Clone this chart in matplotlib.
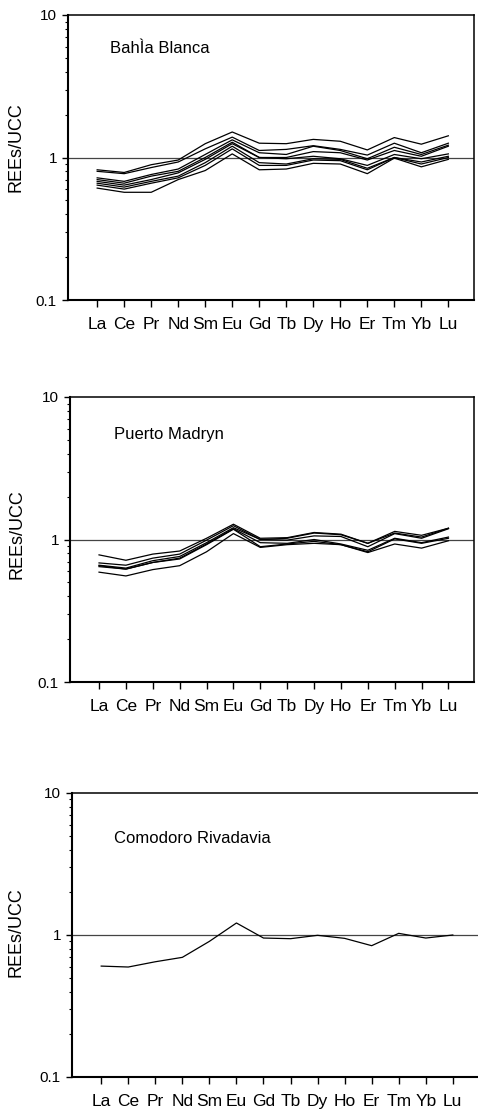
import numpy as np
import matplotlib
matplotlib.use("Agg")
import matplotlib.pyplot as plt
from matplotlib.ticker import LogLocator, NullFormatter, FixedLocator

plt.rcParams['font.family'] = ['Liberation Sans', 'DejaVu Sans']

elements = ['La', 'Ce', 'Pr', 'Nd', 'Sm', 'Eu', 'Gd', 'Tb', 'Dy', 'Ho', 'Er', 'Tm', 'Yb', 'Lu']

# UCC-normalised REE patterns, one list per sample
bahia_blanca = [
    [0.82, 0.785, 0.89, 0.96, 1.25, 1.51, 1.26, 1.25, 1.34, 1.30, 1.13, 1.38, 1.24, 1.42],
    [0.80, 0.77, 0.85, 0.93, 1.15, 1.39, 1.12, 1.14, 1.21, 1.14, 1.04, 1.26, 1.08, 1.26],
    [0.72, 0.68, 0.76, 0.83, 1.05, 1.33, 1.08, 1.05, 1.20, 1.12, 0.98, 1.18, 1.05, 1.22],
    [0.70, 0.66, 0.74, 0.80, 1.00, 1.28, 1.00, 1.00, 1.10, 1.08, 0.96, 1.12, 1.02, 1.20],
    [0.68, 0.64, 0.70, 0.78, 0.97, 1.25, 1.00, 0.98, 1.02, 0.98, 0.88, 1.05, 0.98, 1.06],
    [0.66, 0.62, 0.68, 0.74, 0.92, 1.20, 0.92, 0.90, 0.98, 0.97, 0.84, 1.00, 0.93, 1.02],
    [0.64, 0.60, 0.66, 0.72, 0.88, 1.15, 0.88, 0.88, 0.96, 0.95, 0.82, 1.00, 0.90, 1.00],
    [0.61, 0.57, 0.57, 0.70, 0.81, 1.06, 0.82, 0.83, 0.91, 0.90, 0.77, 0.99, 0.86, 0.97],
]

puerto_madryn = [
    [0.78, 0.715, 0.79, 0.83, 1.02, 1.28, 1.02, 1.03, 1.12, 1.09, 0.94, 1.14, 1.07, 1.20],
    [0.685, 0.66, 0.74, 0.79, 0.99, 1.25, 1.00, 1.02, 1.11, 1.08, 0.94, 1.11, 1.04, 1.20],
    [0.66, 0.63, 0.71, 0.76, 0.95, 1.21, 1.00, 0.99, 1.06, 1.05, 0.89, 1.10, 1.02, 1.19],
    [0.655, 0.62, 0.69, 0.74, 0.93, 1.19, 0.95, 0.94, 1.00, 0.93, 0.84, 1.02, 0.95, 1.04],
    [0.645, 0.62, 0.69, 0.73, 0.92, 1.18, 0.89, 0.93, 0.97, 0.92, 0.82, 1.01, 0.94, 1.02],
    [0.59, 0.555, 0.615, 0.655, 0.82, 1.10, 0.88, 0.92, 0.94, 0.92, 0.81, 0.93, 0.87, 0.98],
]

comodoro_rivadavia = [
    [0.604, 0.595, 0.648, 0.696, 0.902, 1.215, 0.952, 0.942, 0.995, 0.947, 0.841, 1.027, 0.952, 1.0],
]

panels = [
    ('BahÌa Blanca', bahia_blanca),
    ('Puerto Madryn', puerto_madryn),
    ('Comodoro Rivadavia', comodoro_rivadavia),
]

W, H = 478, 1109
fig = plt.figure(figsize=(W / 100, H / 100), dpi=100)

# axes boxes in pixels: left, right, top, bottom
boxes = [(68, 474, 15, 300), (70, 474, 397, 682), (72, 478.5, 793, 1077)]
name_pos = [(0.103, 0.881), (0.109, 0.870), (0.103, 0.840)]
ylabel_pos = [(-0.106, 0.535), (-0.111, 0.52), (-0.116, 0.51)]

x = np.arange(len(elements))

for (title, samples), (l, r, t, b), npos, lpos in zip(panels, boxes, name_pos, ylabel_pos):
    ax = fig.add_axes([l / W, (H - b) / H, (r - l) / W, (b - t) / H])
    ax.set_yscale('log')
    ax.set_ylim(0.1, 10)
    ax.set_xlim(-1.08, 13.95)

    ax.axhline(1, color='#444444', lw=0.9, zorder=1)
    for s in samples:
        ax.plot(x, s, color='black', lw=0.9, zorder=2)

    ax.xaxis.set_major_locator(FixedLocator(x))
    ax.set_xticklabels(elements, fontsize=12.5)
    ax.yaxis.set_major_locator(FixedLocator([0.1, 1, 10]))
    ax.set_yticklabels(['0.1', '1', '10'], fontsize=11)
    ax.yaxis.set_minor_locator(LogLocator(base=10, subs=np.arange(2, 10)))
    ax.yaxis.set_minor_formatter(NullFormatter())

    ax.tick_params(axis='x', direction='out', length=5, width=1, pad=7,
                   top=False, bottom=True)
    ax.tick_params(axis='y', which='major', direction='out', length=4, width=1,
                   pad=4, right=False)
    ax.tick_params(axis='y', which='minor', direction='out', length=2.5,
                   width=0.8, right=False)

    for side, sp in ax.spines.items():
        sp.set_color('black')
        sp.set_linewidth(1.5 if side in ('left', 'bottom') else 1.1)

    ax.set_ylabel('REEs/UCC', fontsize=13)
    ax.yaxis.set_label_coords(*lpos)
    ax.text(npos[0], npos[1], title, transform=ax.transAxes, fontsize=12,
            ha='left', va='center')

fig.savefig('out.png', dpi=100)
